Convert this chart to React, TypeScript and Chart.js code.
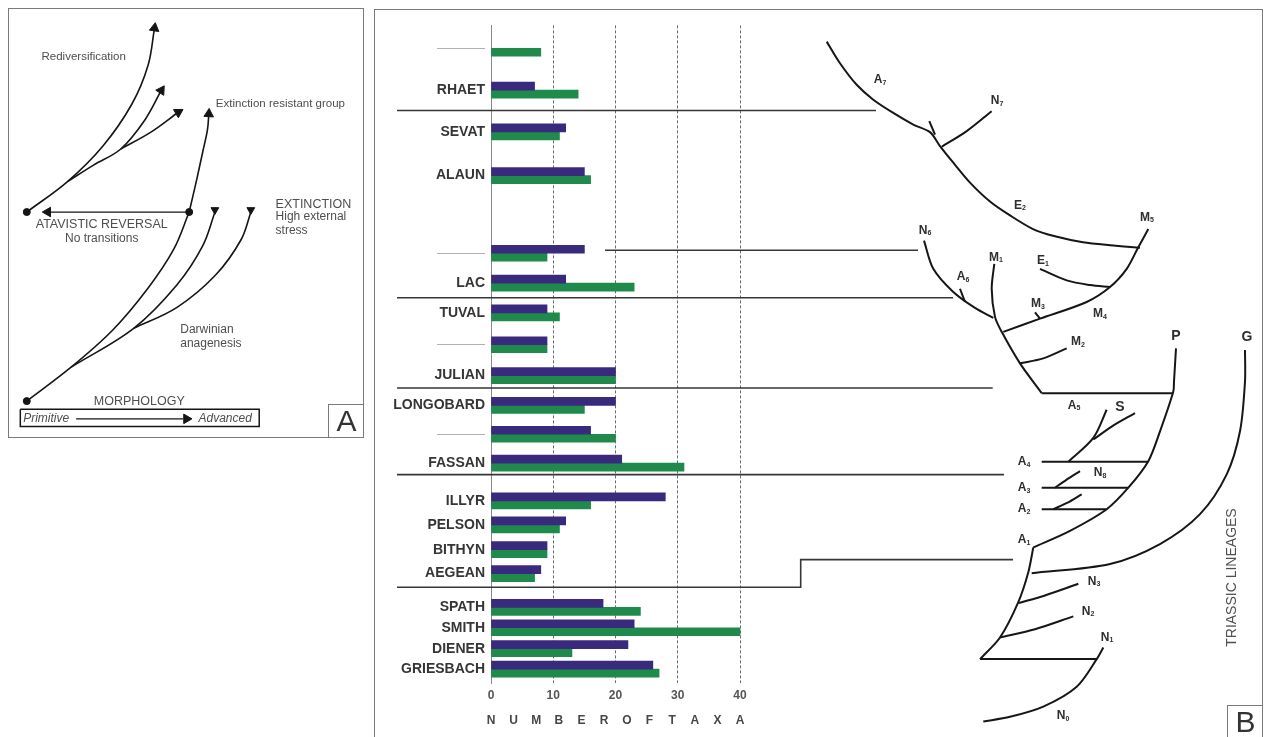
import React, { useEffect, useRef } from 'react';
import { Chart, registerables } from 'chart.js';

Chart.register(...registerables);

const FONT = "'Liberation Sans', Arial, Helvetica, sans-serif";

// ---------------- Panel B : number of taxa per stage (top = youngest) ----------------
const stageNames = ['————', 'RHAET', 'SEVAT', 'ALAUN', '————', 'LAC', 'TUVAL', '————', 'JULIAN', 'LONGOBARD', '————', 'FASSAN', 'ILLYR', 'PELSON', 'BITHYN', 'AEGEAN', 'SPATH', 'SMITH', 'DIENER', 'GRIESBACH'];
// relative stratigraphic level of each stage (0 = base of the scale)
const stageLevels = [63.8, 59.6, 55.4, 51.0, 43.2, 40.2, 37.2, 34.0, 30.9, 27.9, 25.0, 22.1, 18.3, 15.9, 13.4, 11.0, 7.6, 5.55, 3.45, 1.4];
const taxaPurple = [null, 7, 12, 15, 15, 12, 9, 9, 20, 20, 16, 21, 28, 12, 9, 8, 18, 23, 22, 26];
const taxaGreen = [8, 14, 11, 16, 9, 23, 11, 9, 20, 15, 20, 31, 16, 11, 9, 7, 24, 40, 13, 27];
const taxaTicks = [0, 10, 20, 30, 40];
const axisTitle = 'NUMBEROFTAXA';
const levelRange = [0, 66.1];
const taxaRange = [0, 122];
const treeRange = [0, 75.95];

// stage boundaries (tree coordinates: morphospace x, stratigraphic level y)
const boundaryRhaetSevat = [[-9.4, 57.55], [38.5, 57.55]];
const boundaryUpperNorian = [[11.4, 43.5], [42.7, 43.5]];
const boundaryLacTuval = [[-9.4, 38.73], [46.2, 38.73]];
const boundaryJulianLongobard = [[-9.4, 29.65], [50.17, 29.65]];
const boundaryFassanIllyr = [[-9.4, 20.95], [51.3, 20.95]];
const boundaryAegeanSpath = [[-9.4, 9.63], [30.97, 9.63], [30.97, 12.4], [52.2, 12.4]];
const boundaries = [boundaryRhaetSevat, boundaryUpperNorian, boundaryLacTuval, boundaryJulianLongobard, boundaryFassanIllyr, boundaryAegeanSpath];

// Triassic lineages (curved branches)
const branchA7toM5 = [[33.57, 64.47], [34.9, 62.3], [36.57, 60.13], [38.23, 58.63], [40.23, 57.3], [42.23, 56.13], [43.9, 55.37], [44.9, 53.97], [46.23, 52.3], [47.9, 50.3], [49.9, 48.4], [51.9, 47.0], [54.2, 45.63], [56.4, 44.9], [59.2, 44.3], [61.9, 44.0], [64.9, 43.75]];
const branchN7 = [[45.07, 53.9], [47.57, 55.47], [50.07, 57.47]];
const branchM5M4 = [[65.73, 45.63], [64.73, 43.8], [63.57, 41.63], [61.9, 39.8], [59.57, 38.3], [54.9, 36.63], [51.23, 35.3]];
const branchE1 = [[54.9, 41.63], [57.57, 40.47], [59.9, 40.0], [61.9, 39.8]];
const branchN6 = [[43.3, 44.47], [44.23, 41.63], [46.23, 39.3], [48.4, 37.7], [50.23, 36.7]];
const trunkM1 = [[50.33, 42.13], [50.07, 39.63], [50.4, 36.8], [51.07, 35.3], [52.9, 32.13], [55.07, 29.13]];
const branchM2 = [[52.9, 32.13], [55.23, 32.63], [57.57, 33.63]];
const lineageP = [[68.5, 33.63], [68.3, 30.3], [68.23, 29.3], [66.9, 25.3], [65.73, 22.3], [63.73, 19.63], [61.57, 17.47], [57.9, 15.3], [54.23, 13.63]];
const trunkLower = [[54.23, 13.63], [53.73, 11.13], [52.73, 8.13], [50.9, 4.57], [48.9, 2.4]];
const branchS1 = [[57.73, 22.23], [60.23, 24.63], [61.57, 27.47]];
const branchS2 = [[60.23, 24.47], [62.1, 25.8], [64.4, 27.13]];
const branchN8 = [[56.4, 19.63], [57.5, 20.4], [58.9, 21.3]];
const branchA2 = [[56.23, 17.47], [57.6, 18.1], [59.07, 18.97]];
const lineageG = [[75.4, 33.47], [75.4, 30.3], [74.9, 25.3], [73.57, 20.97], [70.9, 16.97], [66.9, 13.97], [61.9, 11.97], [54.07, 11.03]];
const branchN3 = [[52.73, 8.03], [55.4, 8.8], [58.73, 9.97]];
const branchN2 = [[50.9, 4.57], [54.4, 5.4], [58.23, 6.7]];
const lineageN1 = [[61.23, 3.57], [60.57, 2.4], [58.57, -0.37], [55.23, -2.37], [51.9, -3.4], [49.23, -3.87]];
const curvedBranches = [branchA7toM5, branchN7, branchM5M4, branchE1, branchN6, trunkM1, branchM2, lineageP, trunkLower, branchS1, branchS2, branchN8, branchA2, lineageG, branchN3, branchN2, lineageN1];

// straight links and small stubs
const stubA7 = [[43.83, 56.47], [44.4, 55.13]];
const stubM3 = [[54.4, 37.25], [54.9, 36.63]];
const stubA6 = [[46.9, 39.63], [47.4, 38.3]];
const linkM1P = [[55.07, 29.13], [68.23, 29.13]];
const linkA4 = [[55.07, 22.23], [65.73, 22.23]];
const linkA3 = [[55.07, 19.63], [63.73, 19.63]];
const linkA2 = [[55.07, 17.47], [61.57, 17.47]];
const linkN1 = [[48.9, 2.4], [60.57, 2.4]];
const straightBranches = [stubA7, stubM3, stubA6, linkM1P, linkA4, linkA3, linkA2, linkN1];

const treeLabels = [
  { t: 'A', s: '7', x: 38.9, y: 60.6 },
  { t: 'N', s: '7', x: 50.6, y: 58.5 },
  { t: 'E', s: '2', x: 52.9, y: 48.0 },
  { t: 'M', s: '5', x: 65.6, y: 46.8 },
  { t: 'N', s: '6', x: 43.4, y: 45.5 },
  { t: 'M', s: '1', x: 50.5, y: 42.8 },
  { t: 'E', s: '1', x: 55.2, y: 42.4 },
  { t: 'A', s: '6', x: 47.2, y: 40.8 },
  { t: 'M', s: '3', x: 54.7, y: 38.1 },
  { t: 'M', s: '4', x: 60.9, y: 37.1 },
  { t: 'M', s: '2', x: 58.7, y: 34.3 },
  { t: 'P', s: '', x: 68.5, y: 34.9 },
  { t: 'G', s: '', x: 75.6, y: 34.8 },
  { t: 'A', s: '5', x: 58.3, y: 27.9 },
  { t: 'S', s: '', x: 62.9, y: 27.7 },
  { t: 'A', s: '4', x: 53.3, y: 22.2 },
  { t: 'N', s: '8', x: 60.9, y: 21.1 },
  { t: 'A', s: '3', x: 53.3, y: 19.6 },
  { t: 'A', s: '2', x: 53.3, y: 17.5 },
  { t: 'A', s: '1', x: 53.3, y: 14.4 },
  { t: 'N', s: '3', x: 60.3, y: 10.2 },
  { t: 'N', s: '2', x: 59.7, y: 7.2 },
  { t: 'N', s: '1', x: 61.6, y: 4.6 },
  { t: 'N', s: '0', x: 57.2, y: -3.3 },
];
const lineagesTitle = { text: 'TRIASSIC LINEAGES', x: 74.1, y: 10.6 };

// ---------------- Panel A : conceptual diagram ----------------
const curveRediversification = [[1.17, 22.53], [5.43, 25.7], [9.1, 29.37], [12.1, 33.7], [13.77, 37.7], [14.43, 41.5]];
const curveBranch2 = [[5.43, 25.7], [8.1, 27.37], [10.93, 29.03], [13.43, 32.03], [15.13, 35.07]];
const curveBranch3 = [[10.93, 29.03], [14.1, 30.8], [16.9, 32.82]];
const curveResistant = [[18.03, 22.53], [18.77, 25.7], [19.43, 28.7], [19.93, 31.03], [20.07, 32.65]];
const curveAnagenesis1 = [[1.17, 3.03], [5.77, 6.53], [10.1, 10.37], [13.77, 14.7], [16.43, 18.7], [18.03, 22.53]];
const curveAnagenesis2 = [[5.77, 6.53], [12.27, 10.53], [16.77, 15.03], [19.43, 19.03], [20.7, 22.5]];
const curveAnagenesis3 = [[12.27, 10.53], [16.77, 12.7], [20.77, 16.03], [23.43, 19.7], [24.43, 22.5]];
const panelACurves = [curveRediversification, curveBranch2, curveBranch3, curveResistant, curveAnagenesis1, curveAnagenesis2, curveAnagenesis3];
const reversalArrow = [[18.03, 22.53], [3.3, 22.53]];
const morphologyArrow = [[6.3, 1.2], [17.4, 1.2]];
const morphologyBox = [[0.5, 2.2], [25.3, 2.2], [25.3, 0.4], [0.5, 0.4], [0.5, 2.2]];
const arrowHeads = [
  { x: 14.43, y: 41.5, r: 8 },
  { x: 15.13, y: 35.07, r: 33 },
  { x: 16.9, y: 32.82, r: 59 },
  { x: 20.07, y: 32.65, r: 3 },
  { x: 3.35, y: 22.53, r: -90 },
  { x: 17.75, y: 1.2, r: 90 },
];
const extinctionMarks = [{ x: 20.7, y: 22.75, r: 180 }, { x: 24.43, y: 22.75, r: 180 }];
const nodeDots = [[1.17, 22.53], [18.03, 22.53], [1.17, 3.03]];
const panelALabels = [
  { text: 'Rediversification', x: 2.7, y: 38.5, size: 11.5, align: 'left', style: 'normal' },
  { text: 'Extinction resistant group', x: 20.8, y: 33.7, size: 11.5, align: 'left', style: 'normal' },
  { text: 'EXTINCTION', x: 27.0, y: 23.3, size: 12.5, align: 'left', style: 'normal' },
  { text: 'High external', x: 27.0, y: 22.0, size: 12, align: 'left', style: 'normal' },
  { text: 'stress', x: 27.0, y: 20.6, size: 12, align: 'left', style: 'normal' },
  { text: 'ATAVISTIC REVERSAL', x: 8.95, y: 21.2, size: 12.5, align: 'center', style: 'normal' },
  { text: 'No transitions', x: 8.95, y: 19.8, size: 12, align: 'center', style: 'normal' },
  { text: 'Darwinian', x: 17.1, y: 10.4, size: 12, align: 'left', style: 'normal' },
  { text: 'anagenesis', x: 17.1, y: 9.0, size: 12, align: 'left', style: 'normal' },
  { text: 'MORPHOLOGY', x: 12.85, y: 3.0, size: 12.5, align: 'center', style: 'normal' },
  { text: 'Primitive', x: 0.8, y: 1.2, size: 12, align: 'left', style: 'italic' },
  { text: 'Advanced', x: 19.0, y: 1.2, size: 12, align: 'left', style: 'italic' },
];
const panelAXRange = [0, 35.4];
const panelAYRange = [0, 42.8];

const toPts = (arr: number[][]) => arr.map(([x, y]) => ({ x, y }));

const panelBTextPlugin = {
  id: 'panelBText',
  afterDatasetsDraw(chart: any) {
    const { ctx, chartArea, scales } = chart;
    const xs = scales.x, xt = scales.xTree, ys = scales.y;
    ctx.save();
    ctx.fillStyle = '#474747';
    ctx.textAlign = 'center';
    ctx.textBaseline = 'middle';
    ctx.font = `bold 12px ${FONT}`;
    const letters = axisTitle.split('');
    const maxTick = taxaTicks[taxaTicks.length - 1];
    letters.forEach((ch, i) => {
      ctx.fillText(ch, xs.getPixelForValue((i * maxTick) / (letters.length - 1)), chartArea.bottom + 38);
    });
    ctx.fillStyle = '#2e2e2e';
    for (const l of treeLabels) {
      const px = xt.getPixelForValue(l.x);
      const py = ys.getPixelForValue(l.y);
      const big = l.s === '';
      const mainFont = `bold ${big ? 14 : 12}px ${FONT}`;
      const subFont = `bold 7px ${FONT}`;
      ctx.font = mainFont;
      const w1 = ctx.measureText(l.t).width;
      ctx.font = subFont;
      const w2 = l.s ? ctx.measureText(l.s).width : 0;
      const start = px - (w1 + w2) / 2;
      ctx.textAlign = 'left';
      ctx.font = mainFont;
      ctx.fillText(l.t, start, py);
      if (l.s) {
        ctx.font = subFont;
        ctx.fillText(l.s, start + w1, py + 3);
      }
    }
    ctx.translate(xt.getPixelForValue(lineagesTitle.x), ys.getPixelForValue(lineagesTitle.y));
    ctx.rotate(-Math.PI / 2);
    ctx.textAlign = 'center';
    ctx.fillStyle = '#505050';
    ctx.font = `14px ${FONT}`;
    ctx.fillText(lineagesTitle.text, 0, 0);
    ctx.restore();
  },
};

const panelATextPlugin = {
  id: 'panelAText',
  afterDatasetsDraw(chart: any) {
    const { ctx, scales } = chart;
    ctx.save();
    ctx.fillStyle = '#4e4e4e';
    ctx.textBaseline = 'middle';
    for (const l of panelALabels) {
      ctx.font = `${l.style} normal ${l.size}px ${FONT}`;
      ctx.textAlign = l.align;
      ctx.fillText(l.text, scales.x.getPixelForValue(l.x), scales.y.getPixelForValue(l.y));
    }
    ctx.restore();
  },
};

export default function App() {
  const aRef = useRef<HTMLCanvasElement>(null);
  const bRef = useRef<HTMLCanvasElement>(null);

  useEffect(() => {
    Chart.defaults.font.family = FONT;
    const lineDs = (arr: number[][], tension: number, width: number, color: string) => ({
      type: 'line',
      data: toPts(arr),
      xAxisID: 'xTree',
      yAxisID: 'y',
      indexAxis: 'x',
      borderColor: color,
      borderWidth: width,
      pointRadius: 0,
      tension,
      fill: false,
      clip: false,
    });

    const chartB = new Chart(bRef.current as HTMLCanvasElement, {
      type: 'bar',
      data: {
        datasets: [
          {
            type: 'bar',
            label: 'Series 1',
            data: stageLevels.map((lv, i) => ({ x: taxaPurple[i], y: lv })),
            backgroundColor: '#3a2a7d',
            borderWidth: 0,
            barThickness: 8,
            xAxisID: 'x',
            yAxisID: 'y',
          },
          {
            type: 'bar',
            label: 'Series 2',
            data: stageLevels.map((lv, i) => ({ x: taxaGreen[i], y: lv })),
            backgroundColor: '#1f8a4c',
            borderWidth: 0,
            barThickness: 8,
            xAxisID: 'x',
            yAxisID: 'y',
          },
          ...boundaries.map((b) => lineDs(b, 0, 1.6, '#363636')),
          ...curvedBranches.map((b) => lineDs(b, 0.3, 2, '#161616')),
          ...straightBranches.map((b) => lineDs(b, 0, 2, '#161616')),
        ] as any,
      },
      options: {
        animation: false,
        responsive: false,
        indexAxis: 'y',
        layout: { padding: { left: 0, top: 11, right: 11.5, bottom: 0 } },
        plugins: { legend: { display: false }, tooltip: { enabled: false }, title: { display: false } },
        scales: {
          x: {
            type: 'linear',
            position: 'bottom',
            min: taxaRange[0],
            max: taxaRange[1],
            bounds: 'data',
            afterBuildTicks: (s: any) => {
              s.ticks = taxaTicks.map((v) => ({ value: v }));
            },
            afterFit: (s: any) => {
              s.height = 54;
            },
            grid: {
              color: (c: any) => (c.tick && c.tick.value === 0 ? 'rgba(0,0,0,0)' : '#6a6a6a'),
              lineWidth: 1,
              drawTicks: false,
            },
            border: { display: false, dash: [3, 2] },
            ticks: { font: { size: 12, weight: 'bold' }, color: '#555', padding: 5, maxRotation: 0, autoSkip: false },
          },
          xTree: { type: 'linear', axis: 'x', position: 'top', display: false, min: treeRange[0], max: treeRange[1] },
          y: {
            type: 'linear',
            position: 'left',
            min: levelRange[0],
            max: levelRange[1],
            bounds: 'data',
            offset: false,
            afterBuildTicks: (s: any) => {
              s.ticks = stageLevels.map((v) => ({ value: v }));
            },
            afterFit: (s: any) => {
              s.width = 115;
            },
            grid: { display: false, offset: false, drawTicks: false },
            border: { display: true, color: '#8a8a8a', width: 1 },
            ticks: {
              autoSkip: false,
              padding: 6,
              callback: (_v: any, i: number) => stageNames[i],
              font: (c: any) =>
                stageNames[c.index] && stageNames[c.index].startsWith('—')
                  ? { size: 12, weight: 'normal' }
                  : { size: 14, weight: 'bold' },
              color: (c: any) => (stageNames[c.index] && stageNames[c.index].startsWith('—') ? '#a8a8a8' : '#353535'),
            },
          },
        },
      } as any,
      plugins: [panelBTextPlugin],
    });

    const aLine = (arr: number[][], tension: number, width: number) => ({
      data: toPts(arr),
      borderColor: '#151515',
      borderWidth: width,
      pointRadius: 0,
      tension,
      fill: false,
      clip: false,
    });
    const aMarks = (arr: any[], radius: number) => ({
      data: arr,
      showLine: false,
      pointStyle: 'triangle',
      pointRadius: radius,
      pointRotation: (c: any) => (c.raw ? c.raw.r : 0),
      pointBackgroundColor: '#151515',
      pointBorderColor: '#151515',
      pointBorderWidth: 1,
      clip: false,
    });

    const chartA = new Chart(aRef.current as HTMLCanvasElement, {
      type: 'line',
      data: {
        datasets: [
          ...panelACurves.map((c) => aLine(c, 0.35, 1.6)),
          aLine(reversalArrow, 0, 1.2),
          aLine(morphologyArrow, 0, 1.2),
          aLine(morphologyBox, 0, 1.5),
          aMarks(arrowHeads, 5.5),
          aMarks(extinctionMarks, 4.5),
          {
            data: toPts(nodeDots),
            showLine: false,
            pointStyle: 'circle',
            pointRadius: 3.5,
            pointBackgroundColor: '#151515',
            pointBorderColor: '#151515',
            clip: false,
          },
        ] as any,
      },
      options: {
        animation: false,
        responsive: false,
        layout: { padding: 0 },
        plugins: { legend: { display: false }, tooltip: { enabled: false } },
        scales: {
          x: { type: 'linear', min: panelAXRange[0], max: panelAXRange[1], display: false },
          y: { type: 'linear', min: panelAYRange[0], max: panelAYRange[1], display: false },
        },
      } as any,
      plugins: [panelATextPlugin],
    });

    return () => {
      chartB.destroy();
      chartA.destroy();
    };
  }, []);

  const boxLetter: React.CSSProperties = {
    position: 'absolute',
    boxSizing: 'border-box',
    borderLeft: '1.5px solid #7a7a7a',
    borderTop: '1.5px solid #7a7a7a',
    fontFamily: FONT,
    fontSize: 30,
    color: '#333',
    textAlign: 'center',
    lineHeight: '32px',
  };

  return (
    <div style={{ position: 'fixed', left: 0, top: 0, width: 1265, height: 737, background: '#fff', overflow: 'hidden' }}>
      <div style={{ position: 'absolute', left: 8, top: 8, width: 356, height: 430, boxSizing: 'border-box', border: '1.5px solid #7a7a7a' }} />
      <canvas ref={aRef} width={354} height={428} style={{ position: 'absolute', left: 9, top: 9, width: 354, height: 428 }} />
      <div style={{ ...boxLetter, left: 328, top: 404, width: 36, height: 34 }}>A</div>
      <div style={{ position: 'absolute', left: 374, top: 9, width: 889, height: 740, boxSizing: 'border-box', border: '1.5px solid #7a7a7a' }} />
      <canvas ref={bRef} width={886} height={726} style={{ position: 'absolute', left: 376, top: 11, width: 886, height: 726 }} />
      <div style={{ ...boxLetter, left: 1227, top: 705, width: 36, height: 40 }}>B</div>
    </div>
  );
}
